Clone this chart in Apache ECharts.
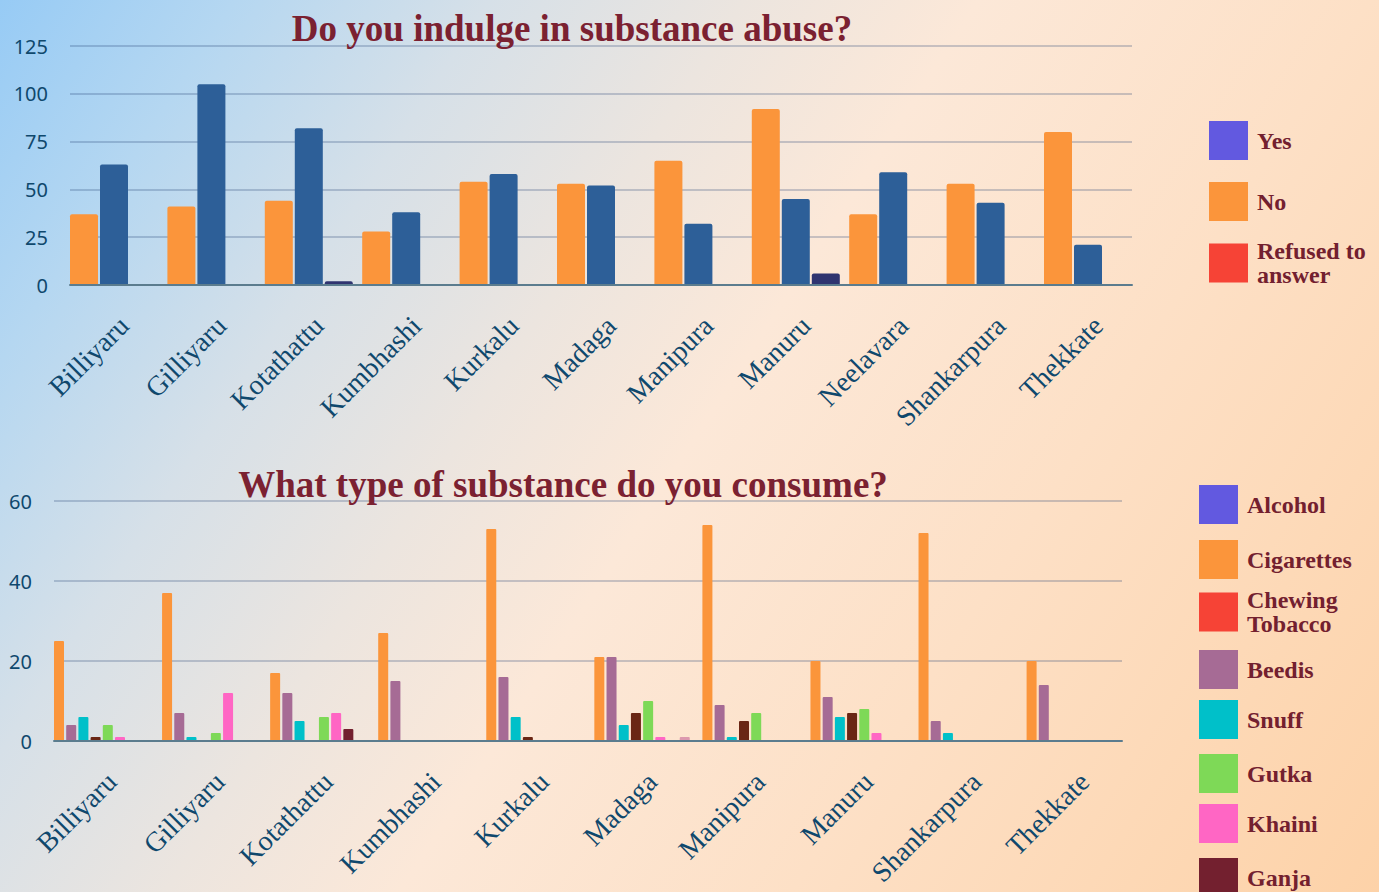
<!DOCTYPE html>
<html>
<head>
<meta charset="utf-8">
<script src="https://cdn.jsdelivr.net/npm/echarts@6/dist/echarts.min.js"></script>
<style>
  html, body { margin:0; padding:0; }
  #chart { width:1379px; height:892px;
    background: linear-gradient(123deg, #97cbf5 0%, #b5d7f1 12%, #d6e0e8 25%, #ece5df 38%, #fce8d8 50%, #fde0c6 70%, #fdd2a8 100%); }
</style>
</head>
<body>
<div id="chart"></div>
<script>
// ---------- data ----------
const topTitle = 'Do you indulge in substance abuse?';
const topCategories = ['Billiyaru','Gilliyaru','Kotathattu','Kumbhashi','Kurkalu','Madaga','Manipura','Manuru','Neelavara','Shankarpura','Thekkate'];
const topNo      = [37, 41, 44, 28, 54, 53, 65, 92, 37, 53, 80];
const topYes     = [63, 105, 82, 38, 58, 52, 32, 45, 59, 43, 21];
const topRefused = [0, 0, 2, 0, 0, 0, 0, 6, 0, 0, 0];
const topTicks = { min: 0, max: 125, interval: 25 };

const botTitle = 'What type of substance do you consume?';
const botCategories = ['Billiyaru','Gilliyaru','Kotathattu','Kumbhashi','Kurkalu','Madaga','Manipura','Manuru','Shankarpura','Thekkate'];
const cigarettes = [25, 37, 17, 27, 53, 21, 54, 20, 52, 20];
const beedis     = [4, 7, 12, 15, 16, 21, 9, 11, 5, 14];
const snuff      = [6, 1, 5, 0, 6, 4, 1, 6, 2, 0];
const alcohol    = [1, 0, 0, 0, 1, 7, 5, 7, 0, 0];
const gutka      = [4, 2, 6, 0, 0, 10, 7, 8, 0, 0];
const khaini     = [1, 12, 7, 0, 0, 1, 0, 2, 0, 0];
const ganja      = [0, 0, 3, 0, 0, 0, 0, 0, 0, 0];
const chewing    = [0, 0, 0, 0, 0, 1, 0, 0, 0, 0];
const botTicks = { min: 0, max: 60, interval: 20 };

// ---------- styles ----------
const serif = '"Liberation Serif", "DejaVu Serif", serif';
const labelColor = '#0f486d';
const titleColor = '#7b2131';
const gridLine = 'rgba(35,65,112,0.32)';
const axisLineColor = '#5b7c8e';

// chart geometry
const T = { left: 70, right: 1132, top: 46, bottom: 285, barW: 28, barGapPx: 2, n: 3 };
const B = { left: 54, right: 1122, top: 501, bottom: 741, barW: 10, barGapPx: 2.2, n: 8 };
const labelShift = 10;
function barGrid(g, count) {
  const group = g.n * g.barW + (g.n - 1) * g.barGapPx;
  const step = ((g.right - g.left) - group) / (count - 1);
  const pad = (step - group) / 2;
  return { left: g.left - pad, top: g.top, width: step * count, height: g.bottom - g.top };
}
const tb = barGrid(T, topCategories.length);
const bb = barGrid(B, botCategories.length);

const topSeries = [
  { name: 'No', data: topNo, color: '#fb953b' },
  { name: 'Yes', data: topYes, color: '#2d5f98' },
  { name: 'Refused to answer', data: topRefused, color: '#2f3470' }
];
const topLegend = [
  { name: 'Yes', icon: '#6259e0', x: 1209, y: 121 },
  { name: 'No', icon: '#fb953b', x: 1209, y: 182 },
  { name: 'Refused to answer', label: 'Refused to\nanswer', icon: '#f64336', x: 1209, y: 244 }
];
const botSeries = [
  { name: 'Cigarettes', data: cigarettes, color: '#fb953b' },
  { name: 'Beedis', data: beedis, color: '#a66b95' },
  { name: 'Snuff', data: snuff, color: '#00c0c9' },
  { name: 'Alcohol', data: alcohol, color: '#6a2614' },
  { name: 'Gutka', data: gutka, color: '#7ed957' },
  { name: 'Khaini', data: khaini, color: '#ff66c4' },
  { name: 'Ganja', data: ganja, color: '#73202f' },
  { name: 'Chewing Tobacco', data: chewing, color: '#dc98ae' }
];
const botLegend = [
  { name: 'Alcohol', icon: '#6259e0', x: 1199, y: 485 },
  { name: 'Cigarettes', icon: '#fb953b', x: 1199, y: 540 },
  { name: 'Chewing Tobacco', label: 'Chewing\nTobacco', icon: '#f64336', x: 1199, y: 593 },
  { name: 'Beedis', icon: '#a66b95', x: 1199, y: 650 },
  { name: 'Snuff', icon: '#00c0c9', x: 1199, y: 700 },
  { name: 'Gutka', icon: '#7ed957', x: 1199, y: 754 },
  { name: 'Khaini', icon: '#ff66c4', x: 1199, y: 804 },
  { name: 'Ganja', icon: '#73202f', x: 1199, y: 858 }
];

const chart = echarts.init(document.getElementById('chart'), null, { renderer: 'svg' });

const legends = [...topLegend, ...botLegend].map(l => {
  const multi = !!l.label;
  return {
    left: l.x, top: multi ? l.y - 5 : l.y, orient: 'vertical', padding: 0, itemGap: 0,
    itemWidth: 39, itemHeight: 39, icon: 'rect', selectedMode: false,
    data: [{ name: l.name, itemStyle: { color: l.icon } }],
    formatter: () => l.label || l.name,
    textStyle: { fontFamily: serif, fontSize: 24, fontWeight: 'bold', color: '#73202f', lineHeight: 24, padding: [0, 0, 0, 4] }
  };
});

const xLabel = { fontFamily: serif, fontSize: 28, color: labelColor, rotate: 45, margin: 36, interval: 0 };
const yLabel = { fontFamily: '"Noto Sans", sans-serif', fontSize: 20, color: labelColor, margin: 22 };
const noGridBounds = { outerBoundsMode: 'none', containLabel: false };

const option = {
  animation: false,
  title: [
    { text: topTitle, left: 567, top: 5, textAlign: 'center', textStyle: { fontFamily: serif, fontSize: 37, fontWeight: 'bold', color: titleColor } },
    { text: botTitle, left: 558, top: 461, textAlign: 'center', textStyle: { fontFamily: serif, fontSize: 37, fontWeight: 'bold', color: titleColor } }
  ],
  legend: legends,
  grid: [
    { left: T.left, top: T.top, width: T.right - T.left, height: T.bottom - T.top, ...noGridBounds },
    { left: tb.left, top: tb.top, width: tb.width, height: tb.height, ...noGridBounds },
    { left: B.left, top: B.top, width: B.right - B.left, height: B.bottom - B.top, ...noGridBounds },
    { left: bb.left, top: bb.top, width: bb.width, height: bb.height, ...noGridBounds },
    { left: tb.left + labelShift, top: tb.top, width: tb.width, height: tb.height, ...noGridBounds },
    { left: bb.left + labelShift, top: bb.top, width: bb.width, height: bb.height, ...noGridBounds }
  ],
  xAxis: [
    { type: 'category', gridIndex: 0, data: topCategories, axisTick: { show: false }, axisLabel: { show: false }, axisLine: { lineStyle: { color: axisLineColor, width: 2 } }, z: 5 },
    { type: 'category', gridIndex: 1, data: topCategories, axisTick: { show: false }, axisLine: { show: false }, axisLabel: { show: false } },
    { type: 'category', gridIndex: 2, data: botCategories, axisTick: { show: false }, axisLabel: { show: false }, axisLine: { lineStyle: { color: axisLineColor, width: 2 } }, z: 5 },
    { type: 'category', gridIndex: 3, data: botCategories, axisTick: { show: false }, axisLine: { show: false }, axisLabel: { show: false } },
    { type: 'category', gridIndex: 4, data: topCategories, axisTick: { show: false }, axisLine: { show: false }, axisLabel: xLabel },
    { type: 'category', gridIndex: 5, data: botCategories, axisTick: { show: false }, axisLine: { show: false }, axisLabel: xLabel }
  ],
  yAxis: [
    { type: 'value', gridIndex: 0, min: topTicks.min, max: topTicks.max, interval: topTicks.interval, axisLabel: yLabel, axisLine: { show: false }, axisTick: { show: false }, splitLine: { lineStyle: { color: gridLine, width: 1.5 } } },
    { type: 'value', gridIndex: 1, min: topTicks.min, max: topTicks.max, show: false, splitLine: { show: false } },
    { type: 'value', gridIndex: 2, min: botTicks.min, max: botTicks.max, interval: botTicks.interval, axisLabel: yLabel, axisLine: { show: false }, axisTick: { show: false }, splitLine: { lineStyle: { color: gridLine, width: 1.5 } } },
    { type: 'value', gridIndex: 3, min: botTicks.min, max: botTicks.max, show: false, splitLine: { show: false } },
    { type: 'value', gridIndex: 4, min: topTicks.min, max: topTicks.max, show: false, splitLine: { show: false } },
    { type: 'value', gridIndex: 5, min: botTicks.min, max: botTicks.max, show: false, splitLine: { show: false } }
  ],
  series: [
    ...topSeries.map(s => ({
      type: 'bar', name: s.name, data: s.data, xAxisIndex: 1, yAxisIndex: 1,
      barWidth: T.barW, barGap: (T.barGapPx / T.barW * 100) + '%',
      itemStyle: { color: s.color, borderRadius: [2, 2, 0, 0] }
    })),
    ...botSeries.map(s => ({
      type: 'bar', name: s.name, data: s.data, xAxisIndex: 3, yAxisIndex: 3,
      barWidth: B.barW, barGap: (B.barGapPx / B.barW * 100) + '%',
      itemStyle: { color: s.color, borderRadius: [1, 1, 0, 0] }
    }))
  ]
};
chart.setOption(option);
</script>
</body>
</html>
